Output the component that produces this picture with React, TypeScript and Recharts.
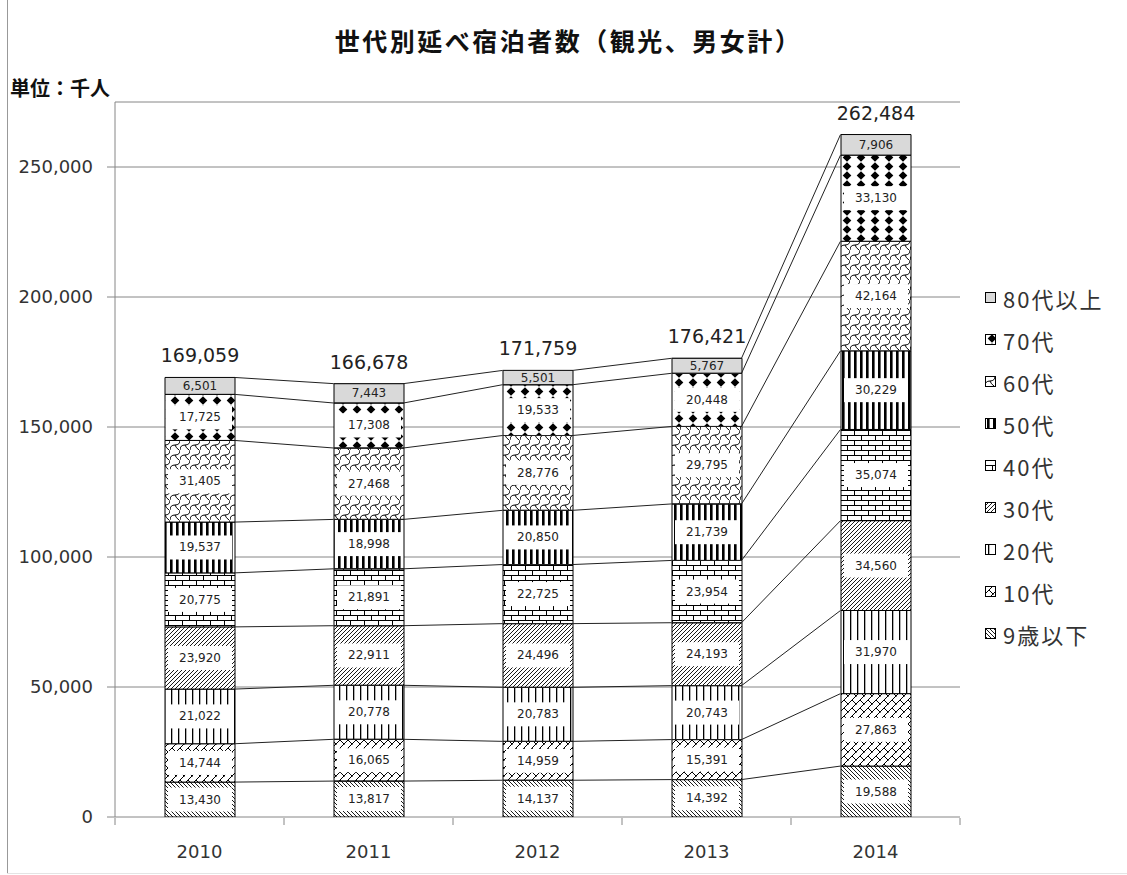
import React from 'react';
import {
  ComposedChart,
  Bar,
  XAxis,
  YAxis,
  CartesianGrid,
  Scatter,
  LabelList,
  Legend,
} from 'recharts';

// 単位：千人
const YEARS = ['2010', '2011', '2012', '2013', '2014'];
const UNDER_9 = [13430, 13817, 14137, 14392, 19588];
const TEENS = [14744, 16065, 14959, 15391, 27863];
const TWENTIES = [21022, 20778, 20783, 20743, 31970];
const THIRTIES = [23920, 22911, 24496, 24193, 34560];
const FORTIES = [20775, 21891, 22725, 23954, 35074];
const FIFTIES = [19537, 18998, 20850, 21739, 30229];
const SIXTIES = [31405, 27468, 28776, 29795, 42164];
const SEVENTIES = [17725, 17308, 19533, 20448, 33130];
const OVER_80 = [6501, 7443, 5501, 5767, 7906];
const TOTALS = [169059, 166678, 171759, 176421, 262484];
const Y_TICKS = [0, 50000, 100000, 150000, 200000, 250000];

// stacked bottom -> top
const SERIES = [
  { key: 'u9', name: '9歳以下', values: UNDER_9, pattern: 'pat-u9' },
  { key: 'a10', name: '10代', values: TEENS, pattern: 'pat-10' },
  { key: 'a20', name: '20代', values: TWENTIES, pattern: 'pat-20' },
  { key: 'a30', name: '30代', values: THIRTIES, pattern: 'pat-30' },
  { key: 'a40', name: '40代', values: FORTIES, pattern: 'pat-40' },
  { key: 'a50', name: '50代', values: FIFTIES, pattern: 'pat-50' },
  { key: 'a60', name: '60代', values: SIXTIES, pattern: 'pat-60' },
  { key: 'a70', name: '70代', values: SEVENTIES, pattern: 'pat-70' },
  { key: 'o80', name: '80代以上', values: OVER_80, pattern: 'pat-80' },
];

const W = 1127;
const H = 875;
const MARGIN = { top: 102, right: 167, bottom: 0, left: 0 };
const Y_AXIS_W = 115;
const X_AXIS_H = 58;
const BAR_SIZE = 70;
const PLOT_W = W - MARGIN.left - MARGIN.right - Y_AXIS_W;
// half bar width in category units, used for the series lines
const HALF_BAR = BAR_SIZE / 2 / (PLOT_W / YEARS.length);
const AXIS_GRAY = '#868686';

const rows = YEARS.map((year, i) => {
  const row: any = { year, total: TOTALS[i] };
  SERIES.forEach((s) => {
    row[s.key] = s.values[i];
  });
  return row;
});

// series lines: top of each stacked segment, right edge of bar i -> left edge of bar i+1
const seriesLines = SERIES.map((_, k) => {
  const pts: Array<{ x: number; y: number }> = [];
  YEARS.forEach((_, i) => {
    const cum = SERIES.slice(0, k + 1).reduce((sum, s) => sum + s.values[i], 0);
    if (i > 0) pts.push({ x: i + 0.5 - HALF_BAR, y: cum });
    if (i < YEARS.length - 1) pts.push({ x: i + 0.5 + HALF_BAR, y: cum });
  });
  return pts;
});

const fmt = (v: number) => v.toLocaleString('en-US');

const PatternDefs = () => (
  <svg width={0} height={0} style={{ position: 'absolute' }}>
    <defs>
      <pattern id="pat-u9" width={4} height={4} patternUnits="userSpaceOnUse">
        <rect width={4} height={4} fill="#fff" />
        <path d="M-1,-1 L5,5 M-1,3 L1,5 M3,-1 L5,1" stroke="#000" strokeWidth={0.9} />
      </pattern>
      <pattern id="pat-10" width={8} height={8} patternUnits="userSpaceOnUse">
        <rect width={8} height={8} fill="#fff" />
        <path d="M-1,9 L9,-1 M4,4 L8,8 M0,0 L0.5,0.5" stroke="#000" strokeWidth={1} />
      </pattern>
      <pattern id="pat-20" width={7} height={7} patternUnits="userSpaceOnUse">
        <rect width={7} height={7} fill="#fff" />
        <rect x={3} width={1.3} height={7} fill="#000" />
      </pattern>
      <pattern id="pat-30" width={4} height={4} patternUnits="userSpaceOnUse">
        <rect width={4} height={4} fill="#fff" />
        <path d="M0,4 L4,0 M-1,1 L1,-1 M3,5 L5,3" stroke="#000" strokeWidth={0.9} />
      </pattern>
      <pattern id="pat-40" width={14} height={10} patternUnits="userSpaceOnUse">
        <rect width={14} height={10} fill="#fff" />
        <path d="M0,0.5 H14 M0,5.5 H14 M0.5,0.5 V5.5 M7.5,5.5 V10" stroke="#000" strokeWidth={1} />
      </pattern>
      <pattern id="pat-50" width={6} height={6} patternUnits="userSpaceOnUse">
        <rect width={6} height={6} fill="#fff" />
        <rect x={2} width={2.6} height={6} fill="#000" />
      </pattern>
      <pattern id="pat-60" width={10} height={10} patternUnits="userSpaceOnUse">
        <rect width={10} height={10} fill="#fff" />
        <path d="M0,10 Q0,5 5,5 Q10,5 10,0 M5,5 Q6,8 9,10" stroke="#000" strokeWidth={1} fill="none" />
      </pattern>
      <pattern id="pat-70" width={14} height={9} patternUnits="userSpaceOnUse">
        <rect width={14} height={9} fill="#fff" />
        <path d="M7,0.3 L11.3,4.5 L7,8.7 L2.7,4.5 Z" fill="#000" />
      </pattern>
      <pattern id="pat-80" width={4} height={4} patternUnits="userSpaceOnUse">
        <rect width={4} height={4} fill="#d9d9d9" />
      </pattern>
    </defs>
  </svg>
);

const SegmentLabel = (props: any) => {
  const { x, y, width, height, value, boxed } = props;
  const v = Array.isArray(value) ? value[1] - value[0] : value;
  const cx = Number(x) + Number(width) / 2;
  const cy = Number(y) + Number(height) / 2;
  return (
    <g>
      {boxed && (
        <rect x={Number(x) + 3} y={cy - 12} width={Number(width) - 6} height={24} fill="#fff" />
      )}
      <text
        x={cx}
        y={cy}
        textAnchor="middle"
        dominantBaseline="central"
        fontSize={12}
        fontFamily="DejaVu Sans"
        fill="#222"
      >
        {fmt(Number(v))}
      </text>
    </g>
  );
};

const TotalLabel = (props: any) => {
  const { x, y, width, value } = props;
  return (
    <text
      x={Number(x) + Number(width) / 2}
      y={Number(y) - 22}
      textAnchor="middle"
      dominantBaseline="central"
      fontSize={19}
      fontFamily="DejaVu Sans"
      fill="#222"
    >
      {fmt(Number(value))}
    </text>
  );
};

const LegendContent = () => (
  <div style={{ fontFamily: '"Noto Sans CJK JP"', fontSize: 22, color: '#333' }}>
    {[...SERIES].reverse().map((s) => (
      <div key={s.key} style={{ display: 'flex', alignItems: 'center', height: 42 }}>
        <svg width={12} height={12} style={{ marginRight: 6 }}>
          <rect x={0.5} y={0.5} width={10} height={10} fill={`url(#${s.pattern})`} stroke="#000" />
        </svg>
        <span style={{ letterSpacing: 2, whiteSpace: 'nowrap' }}>{s.name}</span>
      </div>
    ))}
  </div>
);

const EmptyShape = () => <g />;

export default function App() {
  return (
    <div style={{ position: 'relative', width: W, height: H, background: '#fff' }}>
      <style>{'body{margin:0}'}</style>
      <PatternDefs />
      <div style={{ position: 'absolute', left: 7, top: 0, width: 1, height: 873, background: '#999' }} />
      <div style={{ position: 'absolute', left: 7, top: 873, width: W - 7, height: 1, background: '#e4e4e4' }} />
      <div
        style={{
          position: 'absolute',
          left: 0,
          width: W,
          top: 24,
          textAlign: 'center',
          paddingLeft: 10,
          boxSizing: 'border-box',
          fontFamily: '"Noto Sans CJK JP"',
          fontWeight: 700,
          fontSize: 25,
          lineHeight: '32px',
          letterSpacing: 2.5,
          color: '#111',
        }}
      >
        世代別延べ宿泊者数（観光、男女計）
      </div>
      <div
        style={{
          position: 'absolute',
          left: 10,
          top: 75,
          fontFamily: '"Noto Sans CJK JP"',
          fontWeight: 700,
          fontSize: 20,
          lineHeight: '26px',
          color: '#111',
        }}
      >
        単位：千人
      </div>
      <ComposedChart
        width={W}
        height={H}
        data={rows}
        margin={MARGIN}
        barSize={BAR_SIZE}
        style={{ fontFamily: 'DejaVu Sans' }}
      >
        <CartesianGrid vertical={false} stroke={AXIS_GRAY} />
        <XAxis
          dataKey="year"
          height={1}
          axisLine={false}
          tickLine={false}
          tickSize={0}
          tickMargin={28}
          tick={{ fontSize: 18, fill: '#333' }}
        />
        <XAxis
          xAxisId="n"
          type="number"
          dataKey="x"
          domain={[0, YEARS.length]}
          ticks={[0, 1, 2, 3, 4, 5]}
          allowDataOverflow
          height={X_AXIS_H - 1}
          tickFormatter={() => ''}
          tickSize={7}
          tickLine={{ stroke: AXIS_GRAY }}
          axisLine={false}
        />
        <YAxis
          width={Y_AXIS_W}
          domain={[0, 275000]}
          ticks={Y_TICKS}
          allowDataOverflow
          tickFormatter={fmt}
          tickSize={8}
          tickMargin={14}
          tick={{ fontSize: 18, fill: '#333' }}
          tickLine={{ stroke: AXIS_GRAY }}
          axisLine={{ stroke: AXIS_GRAY }}
        />
        {SERIES.map((s, k) => (
          <Bar
            key={s.key}
            dataKey={s.key}
            name={s.name}
            stackId="a"
            fill={`url(#${s.pattern})`}
            stroke="#000"
            strokeWidth={1}
            isAnimationActive={false}
          >
            <LabelList
              dataKey={s.key}
              content={(p: any) => <SegmentLabel {...p} boxed={k < SERIES.length - 1} />}
            />
            {k === SERIES.length - 1 && <LabelList dataKey="total" content={TotalLabel} />}
          </Bar>
        ))}
        {seriesLines.map((pts, k) => (
          <Scatter
            key={`line-${k}`}
            xAxisId="n"
            data={pts}
            dataKey="y"
            line={{ stroke: '#222', strokeWidth: 1 }}
            lineType="joint"
            shape={EmptyShape}
            legendType="none"
            isAnimationActive={false}
          />
        ))}
        <Legend
          layout="vertical"
          align="center"
          verticalAlign="middle"
          content={LegendContent}
          wrapperStyle={{ left: 985, top: 277, width: 'auto' }}
        />
      </ComposedChart>
    </div>
  );
}
